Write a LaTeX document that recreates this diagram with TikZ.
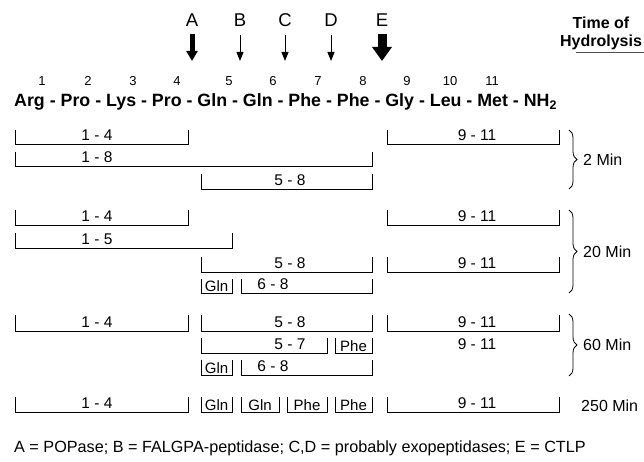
\documentclass[tikz,border=0pt]{standalone}
\usepackage{fontspec}
\setmainfont{Liberation Sans}
\usetikzlibrary{arrows.meta,decorations.pathreplacing}

\begin{document}
\begin{tikzpicture}[x=1pt, y=-1pt,
		frag/.style={line width=.8pt},
		lab/.style={font=\fontsize{15.5}{16}\selectfont, anchor=base, inner sep=0pt},
		boxlab/.style={font=\fontsize{15}{15}\selectfont, anchor=base, inner sep=0pt},
		enz/.style={font=\fontsize{18.5}{19}\selectfont, anchor=base, inner sep=0pt},
		resnum/.style={font=\fontsize{13}{14}\selectfont, anchor=base, inner sep=0pt},
		tlab/.style={font=\fontsize{16}{16}\selectfont, anchor=west, inner sep=0pt},
		fatarrow/.style={line width=5pt, -{Triangle[length=10pt, width=11pt]}},
		hugearrow/.style={line width=9pt, -{Triangle[length=14pt, width=19pt]}},
		thinarrow/.style={line width=1pt, -{Triangle[length=9pt, width=7pt]}},
		tbrace/.style={line width=.8pt, decorate, decoration={brace, amplitude=8pt}}]
	\useasboundingbox (0,0) rectangle (644,462);

	% cleavage sites
	\foreach \e/\x in {A/192, B/240, C/285, D/331, E/382} {
		\node[enz] (l\e) at (\x,27) {\e};
		\coordinate (t\e) at (\x,61);
	}
	\draw[fatarrow] ([yshift=-7pt]lA.south) -- (tA);
	\draw[thinarrow] ([yshift=-8pt]lB.south) -- (tB);
	\draw[thinarrow] ([yshift=-8pt]lC.south) -- (tC);
	\draw[thinarrow] ([yshift=-8pt]lD.south) -- (tD);
	\draw[hugearrow] ([yshift=-7pt]lE.south) -- (tE);

	\node[font=\bfseries\fontsize{16}{18}\selectfont, align=center, anchor=north, inner sep=0pt] (time) at (601,17) {Time of\\Hydrolysis};
	\coordinate (ul) at (644,53);
	\draw[line width=1pt, black!70] (576,53) -- (ul);

	% peptide
	\foreach \n/\x in {1/42, 2/88, 3/133, 4/177, 5/229, 6/273, 7/318, 8/363, 9/407, 10/450, 11/492}
		\node[resnum] (n\n) at (\x,86) {\n};
	\node[font=\bfseries\fontsize{17.8}{19}\selectfont, anchor=base west, inner sep=0pt] (seq) at (14,107)
		{Arg - Pro - Lys - Pro - Gln - Gln - Phe - Phe - Gly - Leu - Met - NH\textsubscript{2}};

	% fragments
	\foreach \xl/\xr/\yt/\yb/\lx/\txt [count=\i] in {
			15/188/130/144/97/1 - 4, 387/559/130/144/477/9 - 11,
			15/372/152/166/97/1 - 8, 201/372/174/189/290/5 - 8,
			15/188/210/225/97/1 - 4, 387/559/210/225/477/9 - 11,
			15/232/233/248/97/1 - 5, 201/372/257/272/290/5 - 8,
			387/559/257/272/477/9 - 11, 241/372/279/293/273/6 - 8,
			15/188/315/331/97/1 - 4, 201/372/315/331/290/5 - 8,
			387/559/315/331/477/9 - 11, 201/327/338/353/290/5 - 7,
			241/372/360/375/273/6 - 8,
			15/188/397/412/97/1 - 4, 387/559/397/412/477/9 - 11} {
		\draw[frag] (\xl,\yt) |- (\xr,\yb) -- (\xr,\yt);
		\node[lab] (f\i) at (\lx,\yb-3.5) {\txt};
	}
	\foreach \xl/\xr/\yt/\yb/\txt [count=\i] in {
			201/232/279/293/Gln, 335/372/338/353/Phe, 201/232/360/375/Gln,
			201/232/397/412/Gln, 241/279/397/412/Gln, 287/327/397/412/Phe,
			335/372/397/412/Phe} {
		\draw[frag] (\xl,\yt) |- (\xr,\yb) -- (\xr,\yt);
		\node[boxlab] (r\i) at ({(\xl+\xr)/2},\yb-2) {\txt};
	}
	\node[lab] (free) at (477,349) {9 - 11};

	% times
	\draw[tbrace] (569,130) -- (569,189);
	\draw[tbrace] (569,210) -- (569,293);
	\draw[tbrace] (569,314) -- (569,376);
	\node[tlab] (t2) at (583,160) {2 Min};
	\node[tlab] (t20) at (583,252) {20 Min};
	\node[tlab] (t60) at (583,345) {60 Min};
	\node[tlab] (t250) at (581,406) {250 Min};

	\node[font=\fontsize{16.2}{17}\selectfont, anchor=base west, inner sep=0pt] (key) at (14,452)
		{A = POPase; B = FALGPA-peptidase; C,D = probably exopeptidases; E = CTLP};
\end{tikzpicture}
\end{document}
